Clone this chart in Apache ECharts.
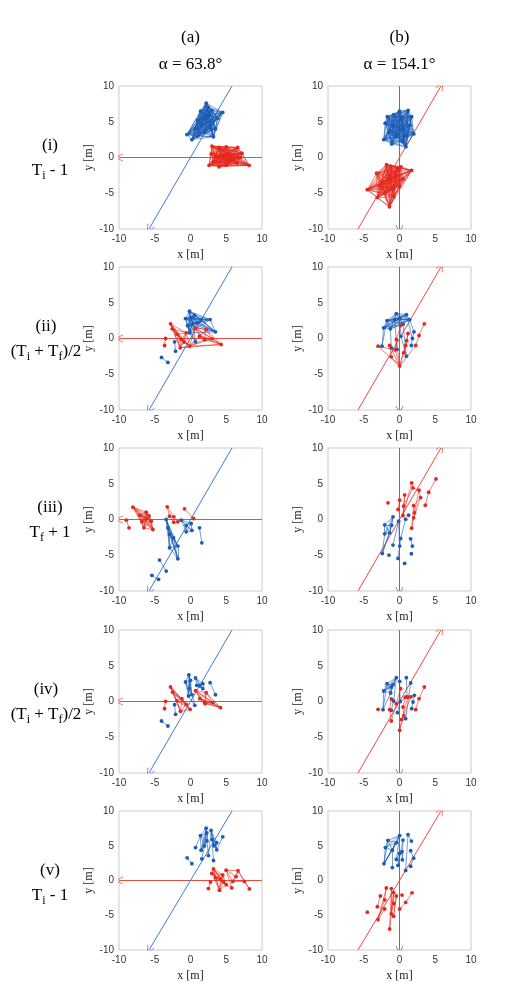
<!DOCTYPE html>
<html>
<head>
<meta charset="utf-8">
<script src="https://cdn.jsdelivr.net/npm/echarts@6/dist/echarts.min.js"></script>
<style>
  html, body { margin: 0; padding: 0; background: #fff; }
  #chart { width: 518px; height: 983px; }
</style>
</head>
<body>
<div id="chart"></div>
<script>
// axis ticks shared by every panel
var ticks = [-10, -5, 0, 5, 10];

// reference direction arrows (start, tip)
var redArrowA = [[10, 0], [-10, 0]];
var blueArrowA = [[5.8, 10], [-5.8, -10]];
var blueArrowB = [[0, 10], [0, -10]];
var redArrowB = [[-5.8, -10], [5.8, 10]];

// ---- row (i), column (a)
var a1Blue = [[-0.5,3.2],[0.2,2.5],[0.6,4.0],[1.0,5.2],[1.4,6.5],[2.2,7.6],[2.5,7.0],[3.0,6.6],[4.5,6.3],[3.8,5.5],[3.2,2.9],[2.8,4.2],[2.0,3.5],[1.5,4.5],[2.5,5.8],[3.5,4.0],[1.0,3.0],[2.0,6.0]];
var a1BlueLinks = [[0,1,2,3,4,5,6,7,8,9,10,11,12,13,14,15,16,17]];
var a1Red = [[2.6,-1.1],[2.9,0.5],[3.0,1.6],[4.0,1.4],[5.0,1.5],[6.6,1.4],[7.2,0.6],[8.2,-1.1],[6.5,-0.8],[5.0,-1.1],[4.0,-1.3],[3.5,0.0],[4.5,0.3],[5.5,0.5],[6.0,-0.2],[7.0,0.0],[3.2,-0.6],[5.5,-0.5]];
var a1RedLinks = [[0,1,2,3,4,5,6,7,8,9,10,11,12,13,14,15,16,17]];

// ---- row (i), column (b)
var b1Blue = [[-2.2,2.5],[-1.1,1.9],[0.9,1.5],[2.0,3.3],[1.7,5.7],[1.2,6.6],[0.0,6.5],[-1.7,5.7],[-2.0,4.8],[-1.0,4.5],[0.5,4.0],[-0.5,3.0],[1.0,3.0],[0.3,5.5],[-1.5,3.5],[1.5,4.5],[-0.8,6.0],[0.5,2.2]];
var b1BlueLinks = [[0,1,2,3,4,5,6,7,8,9,10,11,12,13,14,15,16,17]];
var b1Red = [[-4.5,-4.5],[-3.1,-5.6],[-1.4,-6.9],[-0.8,-5.5],[0.0,-4.0],[1.7,-1.8],[0.2,-1.3],[-1.8,-1.0],[-1.2,-1.2],[-3.2,-2.2],[-2.5,-3.5],[-1.5,-3.0],[-0.5,-2.5],[-1.0,-4.5],[-2.0,-5.0],[0.5,-3.0],[-2.8,-4.0],[-0.3,-1.5]];
var b1RedLinks = [[0,1,2,3,4,5,6,7,8,9,10,11,12,13,14,15,16,17]];

// ---- row (ii), column (a)
var a2Blue = [[-0.14,3.81],[-0.7,2.79],[0.1,2.9],[0.56,3.26],[1.49,2.65],[2.74,2.65],[3.49,0.93],[-0.14,0.79],[0.7,-0.47],[0.3,2.0],[1.0,2.2],[-0.4,1.8],[-2.23,-0.47],[-2.09,-1.77],[-4.05,-2.65],[-3.16,-3.35]];
var a2BlueLinks = [[0,1,2,3,4,5,6,7,9,10,11],[7,8,9,11],[12,13],[14,15]];
var a2Red = [[-2.79,2.05],[-2.56,1.35],[-1.3,-0.14],[-1.44,-1.3],[-0.14,-1.07],[-0.6,0.79],[-1.9,0.6],[-0.9,-0.5],[0.65,1.49],[2.19,1.26],[1.95,-0.14],[3.02,-0.05],[4.28,-0.84],[1.26,0.33],[-3.49,0],[-3.63,-0.98]];
var a2RedLinks = [[0,1,2,3,4,5,6,7],[4,8,9,10,11,12,13],[3,12],[14,15]];

// ---- row (ii), column (b)
var b2Blue = [[-0.44,3.49],[-1.75,2.51],[-2.21,1.49],[-0.68,2.65],[0.02,2.79],[0.96,3.35],[1.42,2.65],[0.5,2.0],[-1.28,1.35],[2.03,0.93],[1.8,0],[1.66,-0.98],[-2.45,-1.07],[-1.14,-1.3],[-0.35,-1.53],[0.96,-2.47],[0.2,0.3]];
var b2BlueLinks = [[0,1,2,3,4,5,6,7,8],[2,12],[8,13],[1,12],[9,10],[10,11],[6,9],[5,10],[3,14],[4,16],[16,15],[7,15],[13,14]];
var b2Red = [[-3.0,-1.07],[-1.38,-0.98],[-1.14,-2.56],[0.02,-3.86],[-0.44,-0.14],[0.16,1.81],[1.19,0.7],[0.86,-0.98],[0.58,-2.0],[2.26,-0.98],[2.73,0.42],[3.47,2.05],[-0.6,-1.6],[1.0,-0.3]];
var b2RedLinks = [[3,0],[3,1],[3,2],[3,4],[3,12],[3,7],[3,8],[7,8],[1,2],[0,12],[5,4],[6,7],[6,13],[13,8],[9,10],[10,11],[9,3],[12,4]];

// ---- row (iii), column (a)
var a3Blue = [[-3.4,0],[-3.16,-1.16],[-2.93,-2.09],[-2.37,-2.56],[-1.77,-3.72],[-1.77,-5.49],[-2.93,-3.95],[-1.3,-0.09],[-0.6,-0.84],[-0.6,-1.72],[0.09,-0.56],[0.19,-1.53],[1.26,-1.16],[1.58,-3.26],[-4.33,-5.67],[-3.4,-7.21],[-5.4,-7.81],[-4.47,-8.37]];
var a3BlueLinks = [[0,1,2,3,4,5,6],[7,8,9,10,11],[12,13],[14,15],[16,17]];
var a3Red = [[-8.05,1.72],[-6.19,1.02],[-6.51,-1.16],[-5.26,-1.4],[-5.49,-0.23],[-7.1,0.6],[-6.2,0.1],[-6.8,-0.3],[-5.8,0.5],[-8.6,-1.16],[-8.98,-0.09],[-3.26,1.77],[-2.93,0.47],[-2.33,0.37],[-2.33,-0.37],[-1.77,-0.33],[-0.84,1.49],[0.42,0.14]];
var a3RedLinks = [[0,1,2,3,4,5,6,7,8],[9,10],[11,12,13],[12,14],[13,15],[16,17]];

// ---- row (iii), column (b)
var b3Blue = [[-2.07,-0.74],[-0.91,0.37],[-2.07,-2.0],[-1.38,-1.86],[-1.1,-0.8],[-2.4,-4.74],[-1.47,-4.98],[-0.91,-3.58],[-0.12,-0.23],[0.16,-2.65],[0.02,-3.72],[-0.21,-5.44],[0.72,-6.14],[0.86,0.05],[1.28,0.6],[1.56,-2.7],[1.8,-3.72],[1.66,-4.79]];
var b3BlueLinks = [[0,1,2,3,4],[2,5],[4,5],[3,5],[7,8],[8,10],[9,10],[10,11],[9,13],[15,16]];
var b3Red = [[-1.61,2.33],[0.02,2.7],[-0.21,1.4],[0.72,3.44],[0.58,1.86],[0.49,0.56],[1.7,5.12],[1.89,4.42],[2.73,4.1],[2.96,3.07],[1.98,1.95],[2.1,0.93],[1.98,0.23],[1.7,-1.21],[3.61,2.0],[4.08,3.81],[5.1,5.67]];
var b3RedLinks = [[1,2],[3,4],[4,5],[3,5],[6,7],[7,8],[6,5],[7,4],[8,9],[9,10],[10,11],[11,12],[12,13],[10,13],[9,12],[14,15],[15,16],[8,11]];

// ---- row (iv), column (a)
var a4Blue = [[-0.23,3.71],[-0.7,2.73],[0.0,2.96],[-0.28,0.77],[0.6,-0.54],[-0.2,1.8],[0.19,0.96],[0.7,3.29],[0.88,2.26],[1.72,2.49],[1.72,1.79],[1.3,2.2],[2.74,2.63],[3.49,0.96],[-2.23,-0.44],[-2.09,-1.79],[-4.05,-2.73],[-3.16,-3.43]];
var a4BlueLinks = [[0,1,2,3,5,6],[3,4],[6,4],[7,8,9,10,11],[12,13],[14,15],[16,17]];
var a4Red = [[-2.79,2.03],[-2.5,1.3],[-1.2,0.4],[-1.4,-1.37],[-0.05,-1.09],[-0.6,-0.4],[-1.9,0.1],[0.7,1.52],[2.19,1.24],[1.95,-0.16],[3.12,-0.16],[4.19,-0.86],[2.05,-0.3],[1.3,0.4],[-3.49,0.02],[-3.63,-1.0]];
var a4RedLinks = [[0,1,2,3,4,5,6],[7,8,9,10,11,12,13],[14,15]];

// ---- row (iv), column (b)
var b4Blue = [[-0.44,3.33],[-1.75,2.49],[-2.21,1.47],[-1.14,2.03],[-0.91,2.35],[0.02,2.82],[0.96,3.33],[1.56,2.59],[-1.24,1.19],[-2.31,-1.14],[-1.14,-1.23],[-0.82,0.07],[0.1,0.0],[-0.3,-1.56],[2.07,0.86],[1.89,-0.07],[1.7,-1.0],[1.05,0.63],[0.86,-2.4]];
var b4BlueLinks = [[0,1,2,3,4,8],[2,9],[8,9],[1,9],[0,11],[5,12],[12,13],[6,17],[17,12],[7,18],[14,15],[15,16],[10,11]];
var b4Red = [[-3.0,-1.09],[-1.14,0.35],[-1.38,-1.14],[-1.14,-2.73],[0.16,1.8],[0.02,-4.03],[0.6,-2.0],[0.49,-0.77],[0.8,0.6],[1.19,0.63],[1.6,0.65],[2.26,-1.14],[2.73,0.4],[3.47,2.03],[0.3,-2.5],[-0.44,-0.3]];
var b4RedLinks = [[1,2],[2,3],[4,15],[5,6],[5,14],[6,7],[7,8],[14,9],[6,10],[11,12],[12,13],[3,15]];

// ---- row (v), column (a)
var a5Blue = [[-0.47,3.26],[0.19,2.42],[0.7,4.74],[1.4,6.47],[2.19,7.53],[2.28,6.84],[2.3,5.7],[1.95,4.98],[1.58,3.12],[2.51,3.58],[1.49,4.37],[2.88,7.21],[3.02,5.91],[3.67,5.44],[3.67,4.42],[3.21,2.88],[4.51,6.28],[3.3,5.0]];
var a5BlueLinks = [[0,1],[2,3],[3,4,5,6,7,10],[7,8],[6,9],[11,12,13,14,17],[12,15],[14,16],[11,9]];
var a5Red = [[2.51,-1.16],[2.79,-0.23],[2.98,1.02],[3.21,1.67],[4.05,-1.4],[4.51,0.79],[4.98,1.49],[5.77,-1.07],[5.91,-0.14],[6.65,1.4],[7.53,-0.14],[8.23,-1.21],[6.37,0.56],[4.2,0.2],[5.0,-0.6],[3.5,0.4],[4.6,-0.2]];
var a5RedLinks = [[0,1],[2,3,4,5,13,14,15,16],[6,12,8,9],[7,14],[9,10,11],[6,7],[8,10]];

// ---- row (v), column (b)
var b5Blue = [[-2.17,2.42],[-1.98,4.74],[-1.61,5.77],[-0.44,5.44],[0.02,6.47],[-1.0,4.37],[-1.0,1.86],[-0.44,3.02],[0.0,3.9],[-0.21,2.19],[0.35,4.14],[0.49,5.81],[0.4,2.98],[1.19,6.6],[1.66,5.67],[1.56,4.28],[1.98,3.21],[1.56,2.05],[0.86,1.44]];
var b5BlueLinks = [[0,1,2,3,4,5],[5,6],[7,4],[7,8],[9,11],[10,12],[11,12],[13,14],[15,16],[16,17],[18,13],[8,9],[0,3]];
var b5Red = [[-4.5,-4.56],[-3.1,-3.77],[-2.68,-2.23],[-3.0,-5.63],[-2.07,-2.79],[-1.84,-1.07],[-1.14,-1.16],[-2.07,-4.1],[-1.38,-6.98],[-0.82,-1.74],[-0.44,-2.23],[-1.14,-4.79],[-0.82,-5.16],[-0.8,-3.3],[0.02,-4.1],[0.35,-2.09],[0.86,-3.16],[1.75,-1.77]];
var b5RedLinks = [[1,2],[3,4],[4,5],[3,7],[7,1],[6,8],[8,9],[9,11],[10,12],[11,13],[12,10],[14,16],[16,17],[13,9],[6,11],[3,5]];

var blue = '#1a5cb6';
var red = '#e4281d';
var blueArrow = '#3f7bcf';
var redArrow = '#ec4a3f';
var serif = 'Liberation Serif';
var sans = 'Liberation Sans';

var gridLeft = [119, 328];
var gridTop = [86, 267, 448, 630, 811];
var gridSize = 143;

// panel k = row * 2 + col
var panels = [
  [a1Blue, a1BlueLinks, a1Red, a1RedLinks], [b1Blue, b1BlueLinks, b1Red, b1RedLinks],
  [a2Blue, a2BlueLinks, a2Red, a2RedLinks], [b2Blue, b2BlueLinks, b2Red, b2RedLinks],
  [a3Blue, a3BlueLinks, a3Red, a3RedLinks], [b3Blue, b3BlueLinks, b3Red, b3RedLinks],
  [a4Blue, a4BlueLinks, a4Red, a4RedLinks], [b4Blue, b4BlueLinks, b4Red, b4RedLinks],
  [a5Blue, a5BlueLinks, a5Red, a5RedLinks], [b5Blue, b5BlueLinks, b5Red, b5RedLinks]
];
var colArrows = [
  [[redArrowA, redArrow], [blueArrowA, blueArrow]],
  [[blueArrowB, blueArrow], [redArrowB, redArrow]]
];

// open chevron arrow head, tip at top
var chevron = 'path://M0,0 L-6,10 L-4.8,10 L0,2 L4.8,10 L6,10 Z';

function toLinks(groups) {
  var out = [];
  groups.forEach(function (g) {
    for (var i = 0; i < g.length; i++) {
      for (var j = i + 1; j < g.length; j++) {
        out.push({ source: g[i], target: g[j] });
      }
    }
  });
  return out;
}

var grids = [], xAxes = [], yAxes = [], series = [];

panels.forEach(function (p, k) {
  var row = Math.floor(k / 2), col = k % 2;
  grids.push({
    left: gridLeft[col], top: gridTop[row], width: gridSize, height: gridSize,
    show: true, borderColor: '#cbcbcb', borderWidth: 1, backgroundColor: 'transparent'
  });
  xAxes.push({
    gridIndex: k, type: 'value', min: ticks[0], max: ticks[ticks.length - 1], interval: 5,
    axisLine: { show: false }, axisTick: { show: false }, splitLine: { show: false },
    axisLabel: { fontSize: 10, color: '#333', fontFamily: sans, margin: 5 },
    name: 'x [m]', nameLocation: 'middle', nameGap: 20,
    nameTextStyle: { fontFamily: serif, fontSize: 12, color: '#222' }
  });
  yAxes.push({
    gridIndex: k, type: 'value', min: ticks[0], max: ticks[ticks.length - 1], interval: 5,
    axisLine: { show: false }, axisTick: { show: false }, splitLine: { show: false },
    axisLabel: { fontSize: 10, color: '#333', fontFamily: sans, margin: 5 },
    name: 'y [m]', nameLocation: 'middle', nameGap: 24,
    nameTextStyle: { fontFamily: serif, fontSize: 12, color: '#222' }
  });

  colArrows[col].forEach(function (a) {
    series.push({
      type: 'lines', coordinateSystem: 'cartesian2d', xAxisIndex: k, yAxisIndex: k,
      silent: true, animation: false,
      symbol: ['none', chevron], symbolSize: 8,
      lineStyle: { color: a[1], width: 1, opacity: 1 },
      data: [{ coords: a[0] }]
    });
  });

  [[p[0], p[1], blue], [p[2], p[3], red]].forEach(function (g) {
    series.push({
      type: 'graph', coordinateSystem: 'cartesian2d', xAxisIndex: k, yAxisIndex: k,
      silent: true, animation: false,
      symbol: 'circle', symbolSize: 3.8,
      itemStyle: { color: g[2] },
      lineStyle: { color: g[2], width: 0.7, opacity: 0.85 },
      data: g[0],
      links: toLinks(g[1])
    });
  });
});

var rich = {
  m: { fontFamily: serif, fontSize: 17, lineHeight: 22, fill: '#000' },
  s: { fontFamily: serif, fontSize: 12, lineHeight: 12, verticalAlign: 'bottom', fill: '#000' }
};
function label(x, y, text) {
  return {
    type: 'text', x: x, y: y, silent: true,
    style: { text: text, textAlign: 'center', textVerticalAlign: 'middle', rich: rich }
  };
}

var colTitles = [['(a)', 'α = 63.8°'], ['(b)', 'α = 154.1°']];
// [label, time, horizontal centre]
var rowTitles = [
  ['(i)', '{m|T}{s|i}{m| - 1}', 50],
  ['(ii)', '{m|(T}{s|i}{m| + T}{s|f}{m|)/2}', 46],
  ['(iii)', '{m|T}{s|f}{m| + 1}', 50],
  ['(iv)', '{m|(T}{s|i}{m| + T}{s|f}{m|)/2}', 46],
  ['(v)', '{m|T}{s|i}{m| - 1}', 50]
];

var graphics = [];
colTitles.forEach(function (t, c) {
  var cx = gridLeft[c] + gridSize / 2;
  graphics.push(label(cx, 38, '{m|' + t[0] + '}'));
  graphics.push(label(cx, 65, '{m|' + t[1] + '}'));
});
rowTitles.forEach(function (t, r) {
  var cy = gridTop[r] + gridSize / 2;
  graphics.push(label(t[2], cy - 12, '{m|' + t[0] + '}'));
  graphics.push(label(t[2], cy + 13, t[1]));
});

var chart = echarts.init(document.getElementById('chart'));
chart.setOption({
  animation: false,
  backgroundColor: '#fff',
  grid: grids,
  xAxis: xAxes,
  yAxis: yAxes,
  series: series,
  graphic: graphics
});
</script>
</body>
</html>
